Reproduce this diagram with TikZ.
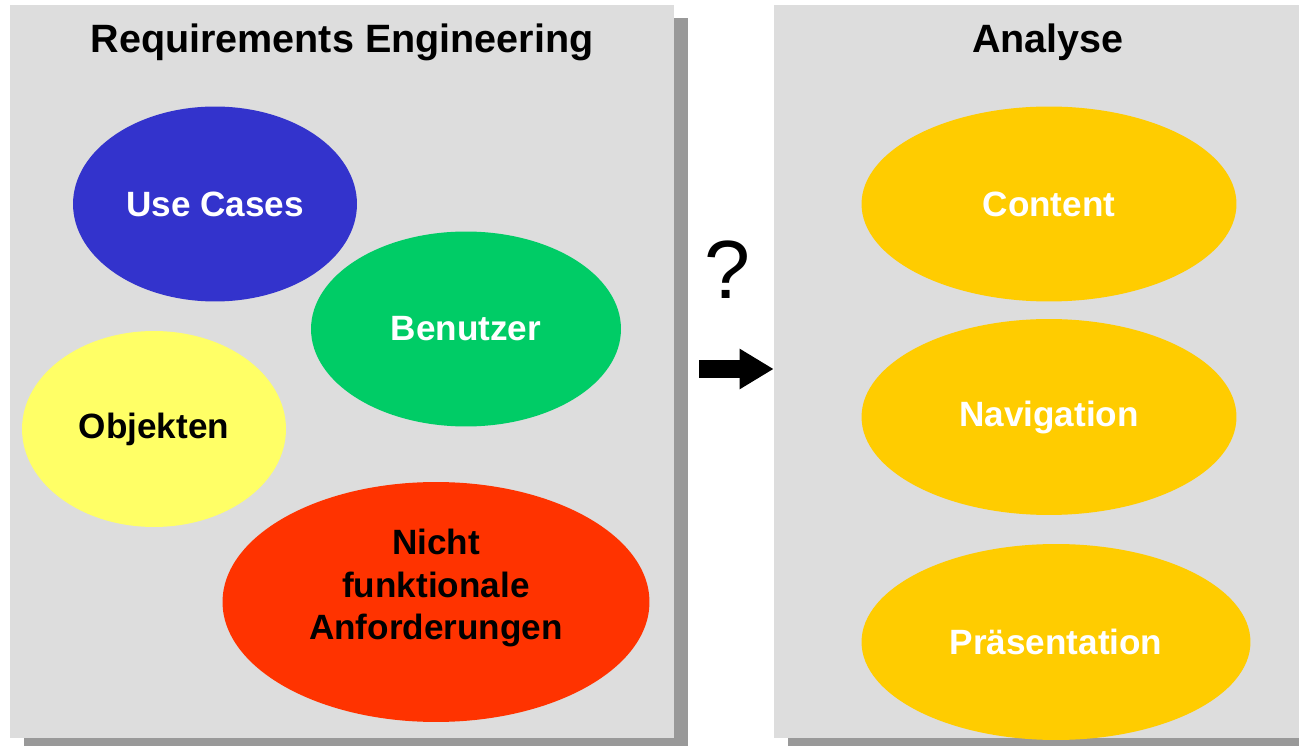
\documentclass[tikz,border=0pt]{standalone}
\usepackage{fontspec}
\setmainfont{Liberation Sans}
\usepackage{tikz}
\usetikzlibrary{positioning,shapes.geometric,shadows,arrows.meta}
\definecolor{panelgray}{HTML}{DDDDDD}
\definecolor{ucblue}{HTML}{3333CC}
\definecolor{bngreen}{HTML}{00CC66}
\definecolor{objyellow}{HTML}{FFFF66}
\definecolor{nfred}{HTML}{FF3300}
\definecolor{angold}{HTML}{FFCC00}
\tikzset{%
  font=\fontsize{20pt}{24pt}\selectfont\bfseries,
  panel/.style={rectangle,fill=panelgray,draw=none,inner sep=0pt,
    general shadow={shadow xshift=.28cm,shadow yshift=-.26cm,fill=black!40}},
  titel/.style={font=\fontsize{22.5pt}{26pt}\selectfont\bfseries},
  blob/.style={ellipse,draw=none,inner sep=0pt,align=center,text=white},
  pfeil/.style={line width=.36cm,-{Triangle[length=.68cm,width=.76cm]}}
}
\begin{document}
\begin{tikzpicture}[x=0.02cm,y=-0.02cm]
	\clip (0,0) rectangle (1299,746);
	\fill[white] (0,0) rectangle (1299,746);
	
	\node[panel,minimum width=13.28cm,minimum height=14.66cm] (re) at (342,371.5) {};
	\node[panel,minimum width=10.92cm,minimum height=14.66cm] (an) at (1047,371.5) {};
	\node[titel] (retitel) at (342,42) {Requirements Engineering};
	\node[titel] (antitel) at (1048,42) {Analyse};
	
	% Requirements Engineering
	\node[blob,fill=ucblue,minimum width=5.68cm,minimum height=3.9cm] (uc) at (215,204) {Use Cases};
	\node[blob,fill=bngreen,minimum width=6.2cm,minimum height=3.9cm] (bn) at (466,329) {Benutzer};
	\node[blob,fill=objyellow,text=black,minimum width=5.28cm,minimum height=3.92cm] (obj) at (154,429) {\raisebox{-5pt}{Objekten}};
	\node[blob,fill=nfred,minimum width=8.54cm,minimum height=4.8cm,
	  label={[align=center,text=black,yshift=.28cm]center:Nicht\\funktionale\\Anforderungen}] (nf) at (436,602) {};
	
	% Analyse
	\node[blob,fill=angold,minimum width=7.5cm,minimum height=3.9cm] (ct) at (1049,204) {Content};
	\node[blob,fill=angold,minimum width=7.5cm,minimum height=3.92cm] (nav) at (1049,417) {\raisebox{-5pt}{Navigation}};
	\node[blob,fill=angold,minimum width=7.78cm,minimum height=3.92cm] (pr) at (1056,642) {Präsentation};
	
	\node[font=\fontsize{47pt}{50pt}\selectfont] (frage) at (727,270) {?};
	\coordinate (start) at (699,369);
	\draw[pfeil] (start) -- (an.west |- start);
\end{tikzpicture}
\end{document}
